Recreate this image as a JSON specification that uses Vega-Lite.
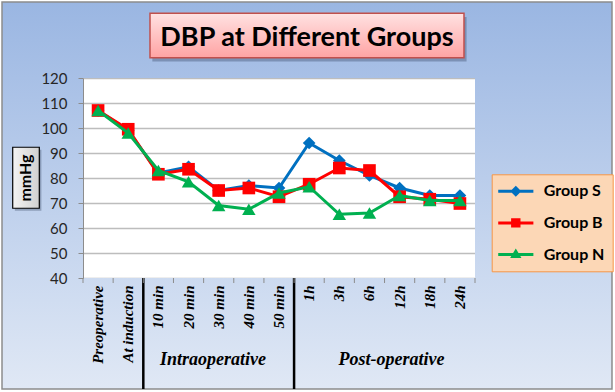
{
  "$schema": "https://vega.github.io/schema/vega-lite/v6.json",
  "width": 392,
  "height": 200,
  "autosize": {"type": "none"},
  "padding": {"left": 83, "top": 78, "right": 140, "bottom": 114},
  "background": "white",
  "config": {
    "view": {"fill": "white", "stroke": null},
    "font": "Lato"
  },
  "data": {
    "values": [
      {"time": "Preoperative", "group": "Group S", "value": 107},
      {"time": "At induction", "group": "Group S", "value": 99},
      {"time": "10 min", "group": "Group S", "value": 82},
      {"time": "20 min", "group": "Group S", "value": 84.5},
      {"time": "30 min", "group": "Group S", "value": 75},
      {"time": "40 min", "group": "Group S", "value": 77},
      {"time": "50 min", "group": "Group S", "value": 76},
      {"time": "1h", "group": "Group S", "value": 94},
      {"time": "3h", "group": "Group S", "value": 87},
      {"time": "6h", "group": "Group S", "value": 81},
      {"time": "12h", "group": "Group S", "value": 76},
      {"time": "18h", "group": "Group S", "value": 73},
      {"time": "24h", "group": "Group S", "value": 73},
      {"time": "Preoperative", "group": "Group B", "value": 107},
      {"time": "At induction", "group": "Group B", "value": 99.5},
      {"time": "10 min", "group": "Group B", "value": 81.5},
      {"time": "20 min", "group": "Group B", "value": 83.5},
      {"time": "30 min", "group": "Group B", "value": 75},
      {"time": "40 min", "group": "Group B", "value": 76},
      {"time": "50 min", "group": "Group B", "value": 72.5},
      {"time": "1h", "group": "Group B", "value": 77.5},
      {"time": "3h", "group": "Group B", "value": 84},
      {"time": "6h", "group": "Group B", "value": 83},
      {"time": "12h", "group": "Group B", "value": 72.5},
      {"time": "18h", "group": "Group B", "value": 71.5},
      {"time": "24h", "group": "Group B", "value": 69.8},
      {"time": "Preoperative", "group": "Group N", "value": 107},
      {"time": "At induction", "group": "Group N", "value": 98},
      {"time": "10 min", "group": "Group N", "value": 83},
      {"time": "20 min", "group": "Group N", "value": 78.5},
      {"time": "30 min", "group": "Group N", "value": 69},
      {"time": "40 min", "group": "Group N", "value": 67.5},
      {"time": "50 min", "group": "Group N", "value": 74},
      {"time": "1h", "group": "Group N", "value": 76.5},
      {"time": "3h", "group": "Group N", "value": 65.5},
      {"time": "6h", "group": "Group N", "value": 66},
      {"time": "12h", "group": "Group N", "value": 73},
      {"time": "18h", "group": "Group N", "value": 71},
      {"time": "24h", "group": "Group N", "value": 71}
    ]
  },
  "resolve": {"axis": {"y": "independent"}},
  "layer": [
    {
      "data": {"values": [{}]},
      "mark": {"type": "rect", "fill": {"gradient": "linear", "x1": 0, "y1": 0, "x2": 0, "y2": 1, "stops": [{"offset": 0, "color": "#9ab6e2"}, {"offset": 1, "color": "#a8c0e6"}]}},
      "encoding": {
        "x": {"datum": "Preoperative", "type": "ordinal", "bandPosition": -2.686, "axis": null},
        "x2": {"datum": "Preoperative", "bandPosition": 17.543},
        "y": {"datum": 150.4, "type": "quantitative", "axis": null},
        "y2": {"datum": 120}
      }
    },
    {
      "data": {"values": [{}]},
      "mark": {"type": "rect", "fill": {"gradient": "linear", "x1": 0, "y1": 0, "x2": 0, "y2": 1, "stops": [{"offset": 0, "color": "#ccdaf0"}, {"offset": 1, "color": "#e0e8f5"}]}},
      "encoding": {
        "x": {"datum": "Preoperative", "type": "ordinal", "bandPosition": -2.686, "axis": null},
        "x2": {"datum": "Preoperative", "bandPosition": 17.543},
        "y": {"datum": 40, "type": "quantitative", "axis": null},
        "y2": {"datum": -4.4}
      }
    },
    {
      "data": {"values": [{}]},
      "mark": {"type": "rect", "fill": {"gradient": "linear", "x1": 0, "y1": 0, "x2": 0, "y2": 1, "stops": [{"offset": 0, "color": "#a8c0e6"}, {"offset": 1, "color": "#ccdaf0"}]}},
      "encoding": {
        "x": {"datum": "Preoperative", "type": "ordinal", "bandPosition": -2.686, "axis": null},
        "x2": {"datum": "Preoperative", "bandPosition": 0},
        "y": {"datum": 120, "type": "quantitative", "axis": null},
        "y2": {"datum": 40}
      }
    },
    {
      "data": {"values": [{}]},
      "mark": {"type": "rect", "fill": {"gradient": "linear", "x1": 0, "y1": 0, "x2": 0, "y2": 1, "stops": [{"offset": 0, "color": "#a8c0e6"}, {"offset": 1, "color": "#ccdaf0"}]}},
      "encoding": {
        "x": {"datum": "Preoperative", "type": "ordinal", "bandPosition": 13, "axis": null},
        "x2": {"datum": "Preoperative", "bandPosition": 17.543},
        "y": {"datum": 120, "type": "quantitative", "axis": null},
        "y2": {"datum": 40}
      }
    },
    {
      "data": {"values": [{}]},
      "mark": {"type": "rect", "filled": false, "stroke": "#8c8c8c", "strokeWidth": 1.5},
      "encoding": {
        "x": {"datum": "Preoperative", "type": "ordinal", "bandPosition": -2.686, "axis": null},
        "x2": {"datum": "Preoperative", "bandPosition": 17.543},
        "y": {"datum": 150.4, "type": "quantitative", "axis": null},
        "y2": {"datum": -4.4}
      }
    },
    {
      "data": {"values": [{}]},
      "mark": {"type": "rect", "fill": "#1f2a44", "opacity": 0.3},
      "encoding": {
        "x": {"datum": "Preoperative", "type": "ordinal", "bandPosition": 2.3, "axis": null},
        "x2": {"datum": "Preoperative", "bandPosition": 12.72},
        "y": {"datum": 144.4, "type": "quantitative", "axis": null},
        "y2": {"datum": 126.6}
      }
    },
    {
      "data": {"values": [{}]},
      "mark": {"type": "rect", "stroke": "#c0504d", "strokeWidth": 1.5, "fill": {"gradient": "linear", "x1": 0, "y1": 0, "x2": 0, "y2": 1, "stops": [{"offset": 0, "color": "#ffe2e2"}, {"offset": 1, "color": "#ffa3a3"}]}},
      "encoding": {
        "x": {"datum": "Preoperative", "type": "ordinal", "bandPosition": 2.222, "axis": null},
        "x2": {"datum": "Preoperative", "bandPosition": 12.635},
        "y": {"datum": 145.9, "type": "quantitative", "axis": null},
        "y2": {"datum": 128.1}
      }
    },
    {
      "data": {"values": [{}]},
      "mark": {"type": "text", "text": "DBP at Different Groups", "font": "Lato", "fontSize": 27, "fontWeight": "bold", "color": "black", "align": "center", "baseline": "middle"},
      "encoding": {
        "x": {"datum": "Preoperative", "type": "ordinal", "bandPosition": 7.429, "axis": null},
        "y": {"datum": 136, "type": "quantitative", "axis": null}
      }
    },
    {
      "data": {"values": [{}]},
      "mark": {"type": "rect", "fill": "#1f2a44", "opacity": 0.3},
      "encoding": {
        "x": {"datum": "Preoperative", "type": "ordinal", "bandPosition": -2.26, "axis": null},
        "x2": {"datum": "Preoperative", "bandPosition": -1.38},
        "y": {"datum": 91.3, "type": "quantitative", "axis": null},
        "y2": {"datum": 66.9}
      }
    },
    {
      "data": {"values": [{}]},
      "mark": {"type": "rect", "stroke": "black", "strokeWidth": 1.2, "fill": {"gradient": "linear", "x1": 0, "y1": 0, "x2": 1, "y2": 0, "stops": [{"offset": 0, "color": "#f4f4f4"}, {"offset": 1, "color": "#d0d0d0"}]}},
      "encoding": {
        "x": {"datum": "Preoperative", "type": "ordinal", "bandPosition": -2.331, "axis": null},
        "x2": {"datum": "Preoperative", "bandPosition": -1.449},
        "y": {"datum": 92.3, "type": "quantitative", "axis": null},
        "y2": {"datum": 67.9}
      }
    },
    {
      "data": {"values": [{}]},
      "mark": {"type": "text", "text": "mmHg", "angle": 270, "font": "Lato", "fontSize": 16, "fontWeight": "bold", "color": "black", "align": "center", "baseline": "middle"},
      "encoding": {
        "x": {"datum": "Preoperative", "type": "ordinal", "bandPosition": -1.89, "axis": null},
        "y": {"datum": 80, "type": "quantitative", "axis": null}
      }
    },
    {
      "data": {"values": [{}]},
      "mark": {"type": "rule", "color": "black", "strokeWidth": 2.5},
      "encoding": {
        "x": {"datum": "Preoperative", "type": "ordinal", "bandPosition": 2, "axis": null},
        "y": {"datum": 40, "type": "quantitative", "axis": null},
        "y2": {"datum": -4.4}
      }
    },
    {
      "data": {"values": [{}]},
      "mark": {"type": "rule", "color": "black", "strokeWidth": 2.5},
      "encoding": {
        "x": {"datum": "Preoperative", "type": "ordinal", "bandPosition": 7, "axis": null},
        "y": {"datum": 40, "type": "quantitative", "axis": null},
        "y2": {"datum": -4.4}
      }
    },
    {
      "data": {"values": [{}]},
      "mark": {"type": "text", "text": "Intraoperative", "font": "Liberation Serif", "fontSize": 18, "fontWeight": "bold", "fontStyle": "italic", "color": "black", "align": "center", "baseline": "middle"},
      "encoding": {
        "x": {"datum": "Preoperative", "type": "ordinal", "bandPosition": 4.311, "axis": null},
        "y": {"datum": 7.2, "type": "quantitative", "axis": null}
      }
    },
    {
      "data": {"values": [{}]},
      "mark": {"type": "text", "text": "Post-operative", "font": "Liberation Serif", "fontSize": 18, "fontWeight": "bold", "fontStyle": "italic", "color": "black", "align": "center", "baseline": "middle"},
      "encoding": {
        "x": {"datum": "Preoperative", "type": "ordinal", "bandPosition": 10.231, "axis": null},
        "y": {"datum": 7.2, "type": "quantitative", "axis": null}
      }
    },
    {
      "transform": [{"filter": "datum.group == 'Group S'"}],
      "mark": {"type": "rule", "color": "#8c8c8c", "strokeWidth": 1},
      "encoding": {
        "x": {"field": "time", "type": "ordinal", "bandPosition": 0, "axis": null},
        "y": {"datum": 40, "type": "quantitative", "axis": null},
        "y2": {"datum": 38}
      }
    },
    {
      "data": {"values": [{}]},
      "mark": {"type": "rule", "color": "#8c8c8c", "strokeWidth": 1},
      "encoding": {
        "x": {"datum": "Preoperative", "type": "ordinal", "bandPosition": 13, "axis": null},
        "y": {"datum": 40, "type": "quantitative", "axis": null},
        "y2": {"datum": 38}
      }
    },
    {
      "transform": [{"filter": "datum.group == 'Group S'"}],
      "mark": {"type": "text", "angle": 270, "align": "right", "baseline": "middle", "font": "Liberation Serif", "fontSize": 15, "fontWeight": "bold", "fontStyle": "italic", "color": "black"},
      "encoding": {
        "x": {"field": "time", "type": "ordinal", "axis": null},
        "y": {"datum": 37, "type": "quantitative", "axis": null},
        "text": {"field": "time"}
      }
    },
    {
      "transform": [{"filter": "datum.group == 'Group S'"}],
      "mark": {"type": "line", "strokeWidth": 3, "color": "#0070c0"},
      "encoding": {
        "x": {
          "field": "time", "type": "ordinal",
          "scale": {"type": "band", "domain": ["Preoperative", "At induction", "10 min", "20 min", "30 min", "40 min", "50 min", "1h", "3h", "6h", "12h", "18h", "24h"], "paddingInner": 0, "paddingOuter": 0},
          "axis": null
        },
        "y": {
          "field": "value", "type": "quantitative",
          "scale": {"domain": [40, 120], "nice": false, "zero": false},
          "axis": {"orient": "right", "title": null, "grid": true, "gridColor": "#bdbdbd", "gridWidth": 1.5, "labels": false, "ticks": false, "domain": false, "values": [40, 50, 60, 70, 80, 90, 100, 110, 120], "zindex": 0}
        }
      }
    },
    {
      "transform": [{"filter": "datum.group == 'Group S'"}],
      "mark": {"type": "point", "shape": "diamond", "filled": true, "opacity": 1, "size": 160, "color": "#0070c0"},
      "encoding": {
        "x": {"field": "time", "type": "ordinal", "axis": null},
        "y": {
          "field": "value", "type": "quantitative",
          "axis": {"orient": "left", "title": null, "grid": false, "values": [40, 50, 60, 70, 80, 90, 100, 110, 120], "labelFont": "Lato", "labelFontSize": 15, "labelColor": "#262626", "labelPadding": 11, "tickSize": 5, "tickColor": "#8c8c8c", "domainColor": "#8c8c8c", "zindex": 1}
        }
      }
    },
    {
      "transform": [{"filter": "datum.group == 'Group B'"}],
      "mark": {"type": "line", "strokeWidth": 3, "color": "#ff0000"},
      "encoding": {
        "x": {"field": "time", "type": "ordinal", "axis": null},
        "y": {"field": "value", "type": "quantitative", "axis": null}
      }
    },
    {
      "transform": [{"filter": "datum.group == 'Group B'"}],
      "mark": {"type": "point", "shape": "square", "filled": true, "opacity": 1, "size": 160, "color": "#ff0000"},
      "encoding": {
        "x": {"field": "time", "type": "ordinal", "axis": null},
        "y": {"field": "value", "type": "quantitative", "axis": null}
      }
    },
    {
      "transform": [{"filter": "datum.group == 'Group N'"}],
      "mark": {"type": "line", "strokeWidth": 3, "color": "#00b050"},
      "encoding": {
        "x": {"field": "time", "type": "ordinal", "axis": null},
        "y": {"field": "value", "type": "quantitative", "axis": null}
      }
    },
    {
      "transform": [{"filter": "datum.group == 'Group N'"}],
      "mark": {"type": "point", "shape": "triangle-up", "filled": true, "opacity": 1, "size": 180, "color": "#00b050"},
      "encoding": {
        "x": {"field": "time", "type": "ordinal", "axis": null},
        "y": {"field": "value", "type": "quantitative", "axis": null}
      }
    },
    {
      "transform": [{"filter": "datum.value < 0"}],
      "mark": {"type": "point", "filled": true},
      "encoding": {
        "x": {"field": "time", "type": "ordinal", "axis": null},
        "y": {"field": "value", "type": "quantitative", "axis": null},
        "color": {
          "field": "group", "type": "nominal",
          "scale": {"domain": ["Group S", "Group B", "Group N"], "range": ["#0070c0", "#ff0000", "#00b050"]},
          "legend": {"orient": "none", "legendX": 408.7, "legendY": 96.3, "zindex": 2, "title": null, "fillColor": "#fcd7b6", "strokeColor": "#f79646", "padding": 8, "symbolSize": 303, "symbolStrokeWidth": 0, "symbolOffset": 7.1, "labelOffset": 18.9, "rowPadding": 14.6, "labelFont": "Lato", "labelFontSize": 16, "labelFontWeight": "bold", "labelColor": "black", "symbolOpacity": 1}
        },
        "shape": {
          "field": "group", "type": "nominal",
          "scale": {"domain": ["Group S", "Group B", "Group N"], "range": ["M-2.02,-0.17H2.02V0.17H-2.02Z M0,-0.63L0.63,0L0,0.63L-0.63,0Z", "M-2.02,-0.17H2.02V0.17H-2.02Z M-0.54,-0.54H0.54V0.54H-0.54Z", "M-2.02,-0.17H2.02V0.17H-2.02Z M0,-0.7L0.65,0.4L-0.65,0.4Z"]},
          "legend": {"orient": "none", "legendX": 408.7, "legendY": 96.3, "zindex": 2, "title": null, "fillColor": "#fcd7b6", "strokeColor": "#f79646", "padding": 8, "symbolSize": 303, "symbolStrokeWidth": 0, "symbolOffset": 7.1, "labelOffset": 18.9, "rowPadding": 14.6, "labelFont": "Lato", "labelFontSize": 16, "labelFontWeight": "bold", "labelColor": "black", "symbolOpacity": 1}
        }
      }
    }
  ]
}
